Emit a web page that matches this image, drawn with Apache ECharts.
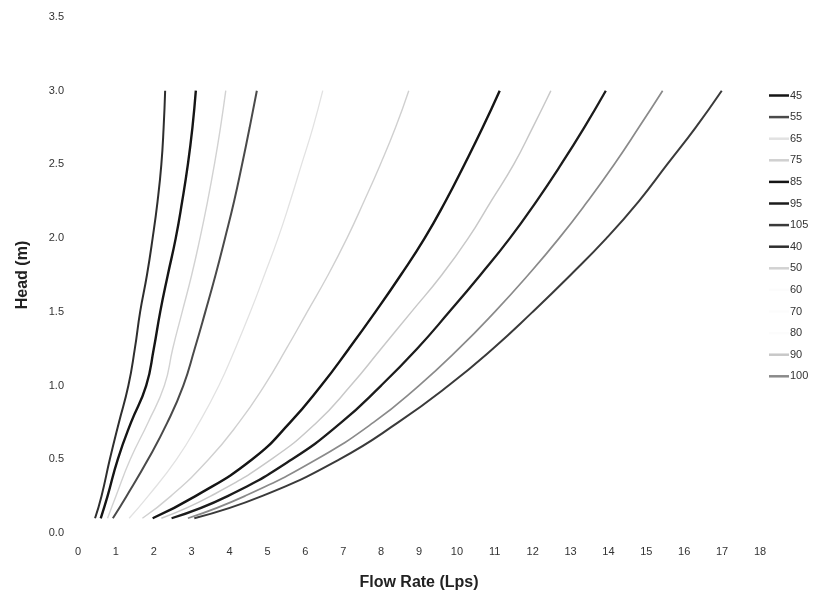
<!DOCTYPE html>
<html>
<head>
<meta charset="utf-8">
<script src="https://cdn.jsdelivr.net/npm/echarts@6/dist/echarts.min.js"></script>
<style>
html,body{margin:0;padding:0;background:#fff;}
#chart{width:815px;height:606px;}
</style>
</head>
<body>
<div id="chart"></div>
<script>
// Head levels (m) shared by every curve
const heads = [0.1, 0.25, 0.5, 0.75, 1.0, 1.25, 1.5, 1.75, 2.0, 2.25, 2.5, 2.75, 3.0];
// Flow rate (Lps) at each head level, per series
const q40  = [0.45, 0.62, 0.84, 1.08, 1.33, 1.50, 1.64, 1.82, 1.97, 2.10, 2.20, 2.26, 2.30];
const q45  = [0.60, 0.78, 1.05, 1.40, 1.80, 2.00, 2.17, 2.37, 2.58, 2.75, 2.90, 3.02, 3.11];
const q50  = [0.78, 1.00, 1.38, 1.85, 2.28, 2.50, 2.75, 3.00, 3.22, 3.42, 3.60, 3.76, 3.90];
const q55  = [0.92, 1.28, 1.85, 2.36, 2.78, 3.08, 3.36, 3.63, 3.88, 4.12, 4.33, 4.53, 4.72];
const q60  = [];
const q65  = [1.35, 1.85, 2.60, 3.20, 3.72, 4.15, 4.55, 4.92, 5.28, 5.60, 5.90, 6.20, 6.46];
const q70  = [];
const q75  = [1.70, 2.45, 3.45, 4.25, 4.92, 5.50, 6.05, 6.60, 7.10, 7.55, 7.98, 8.38, 8.73];
const q80  = [];
const q85  = [1.97, 3.10, 4.60, 5.60, 6.42, 7.15, 7.85, 8.52, 9.15, 9.70, 10.20, 10.68, 11.13];
const q90  = [2.20, 3.50, 5.10, 6.30, 7.20, 8.00, 8.80, 9.60, 10.30, 10.90, 11.50, 12.00, 12.48];
const q95  = [2.47, 3.95, 5.65, 6.95, 8.00, 8.95, 9.80, 10.62, 11.40, 12.10, 12.75, 13.36, 13.93];
const q100 = [2.90, 4.40, 6.30, 7.80, 9.00, 10.05, 11.00, 11.88, 12.70, 13.45, 14.15, 14.80, 15.43];
const q105 = [3.07, 4.85, 6.90, 8.45, 9.78, 10.95, 12.00, 13.00, 13.95, 14.80, 15.55, 16.30, 16.99];

const legendOrder = ['45','55','65','75','85','95','105','40','50','60','70','80','90','100'];
const flows = {'40':q40,'45':q45,'50':q50,'55':q55,'60':q60,'65':q65,'70':q70,'75':q75,'80':q80,'85':q85,'90':q90,'95':q95,'100':q100,'105':q105};
const styles = {
  '40': ['#2e2e2e', 2],
  '45': ['#151515', 2.4],
  '50': ['#d2d2d2', 1.4],
  '55': ['#4a4a4a', 2],
  '60': ['#fcfcfc', 1],
  '65': ['#e2e2e2', 1.3],
  '70': ['#fcfcfc', 1],
  '75': ['#d0d0d0', 1.4],
  '80': ['#fcfcfc', 1],
  '85': ['#151515', 2.4],
  '90': ['#c8c8c8', 1.5],
  '95': ['#1c1c1c', 2.3],
  '100': ['#8a8a8a', 1.7],
  '105': ['#3a3a3a', 2]
};

const series = legendOrder.map(name => ({
  name: name,
  type: 'line',
  symbol: 'none',
  smooth: true,
  lineStyle: { color: styles[name][0], width: styles[name][1] },
  itemStyle: { color: styles[name][0] },
  data: flows[name].map((q, i) => [q, heads[i]])
}));

const chart = echarts.init(document.getElementById('chart'));
chart.setOption({
  animation: false,
  backgroundColor: '#ffffff',
  textStyle: { fontFamily: 'Liberation Sans, Arial, sans-serif' },
  grid: { left: 78, right: 55, top: 17, bottom: 73, containLabel: false },
  legend: {
    orient: 'vertical',
    left: 764,
    top: 85,
    icon: 'rect',
    itemWidth: 20,
    itemHeight: 2.5,
    itemGap: 10.6,
    data: legendOrder,
    textStyle: { color: '#333', fontSize: 11, padding: [0, 0, 0, -4] }
  },
  xAxis: {
    type: 'value',
    min: 0, max: 18, interval: 1,
    name: 'Flow Rate (Lps)',
    nameLocation: 'middle',
    nameGap: 42,
    nameTextStyle: { fontSize: 16, fontWeight: 'bold', color: '#222' },
    axisLine: { show: false },
    axisTick: { show: false },
    splitLine: { show: false },
    axisLabel: { color: '#333', fontSize: 11, margin: 13 }
  },
  yAxis: {
    type: 'value',
    min: 0, max: 3.5, interval: 0.5,
    name: 'Head (m)',
    nameLocation: 'middle',
    nameGap: 47,
    nameTextStyle: { fontSize: 16, fontWeight: 'bold', color: '#222' },
    axisLine: { show: false },
    axisTick: { show: false },
    splitLine: { show: false },
    axisLabel: { color: '#333', fontSize: 11, margin: 14, formatter: v => v.toFixed(1) }
  },
  series: series
});
</script>
</body>
</html>
